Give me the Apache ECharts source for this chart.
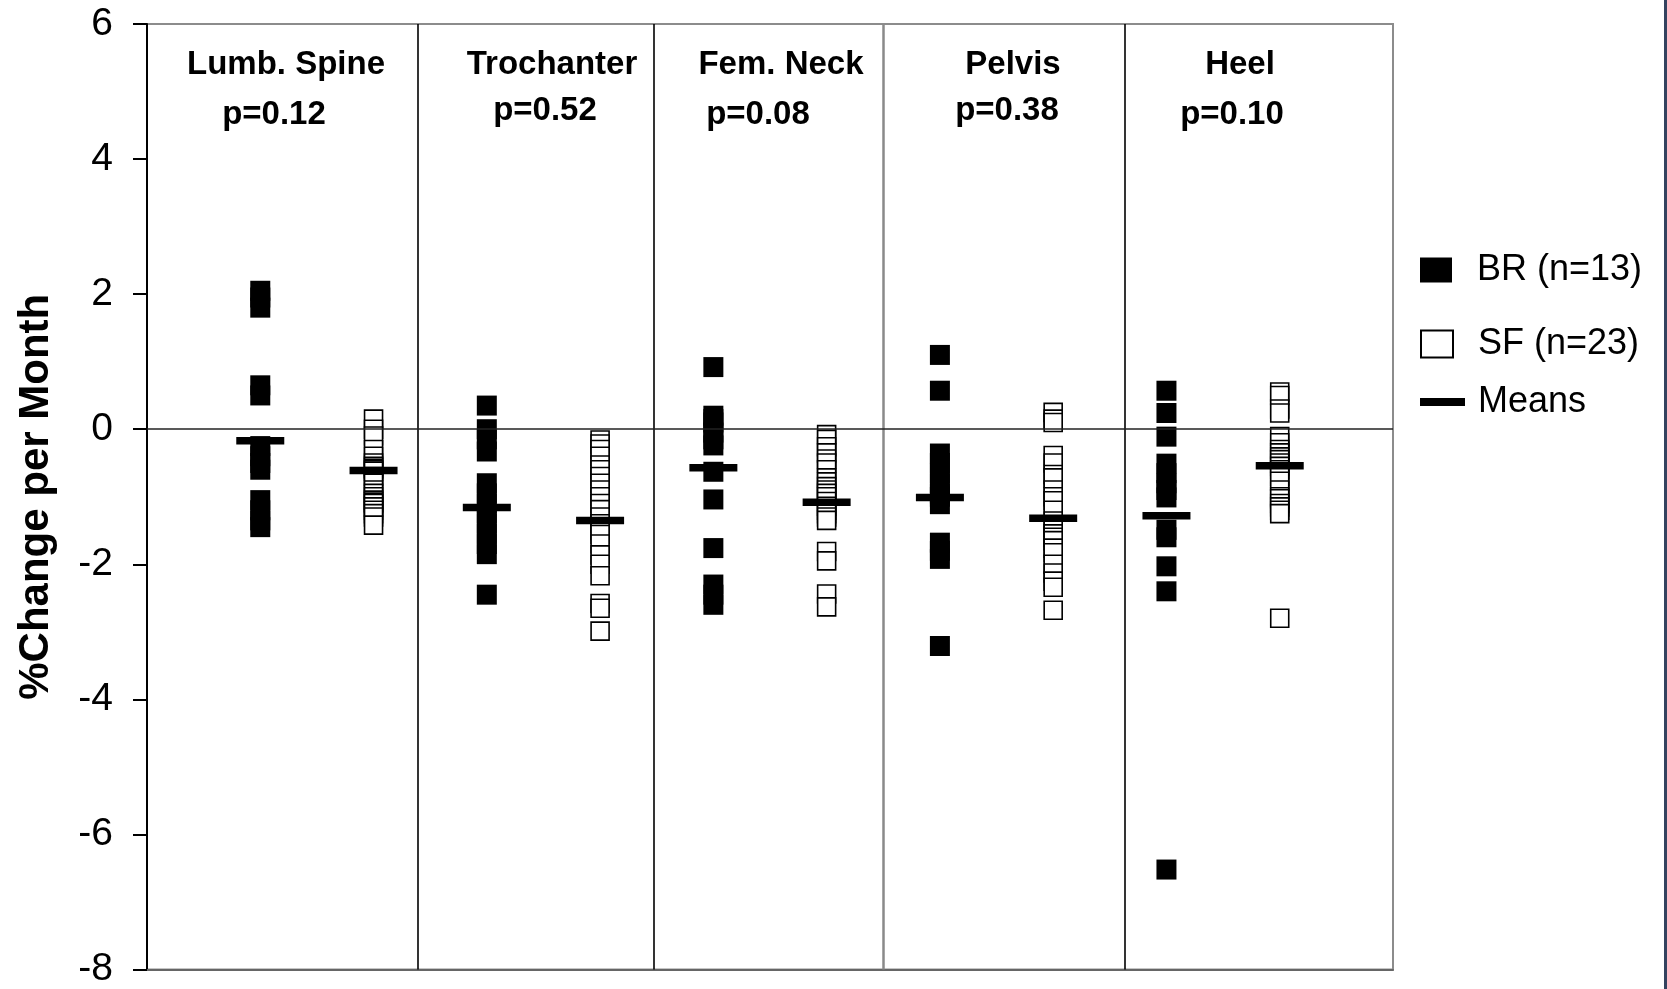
<!DOCTYPE html>
<html>
<head>
<meta charset="utf-8">
<script src="https://cdn.jsdelivr.net/npm/echarts@6/dist/echarts.min.js"></script>
<style>
html,body{margin:0;padding:0;background:#fff;}
#chart{width:1667px;height:989px;}
</style>
</head>
<body>
<div id="chart"></div>
<script>
// ---------- data ----------
const categories = ['Lumb. Spine', 'Trochanter', 'Fem. Neck', 'Pelvis', 'Heel'];
const pLabels = ['p=0.12', 'p=0.52', 'p=0.08', 'p=0.38', 'p=0.10'];
const yTickValues = [-8, -6, -4, -2, 0, 2, 4, 6];

const lumbBR = [2.05, 1.95, 1.8, 0.65, 0.5, -0.25, -0.4, -0.5, -0.6, -1.05, -1.2, -1.35, -1.45];
const trochBR = [0.35, 0.0, -0.15, -0.33, -0.8, -0.95, -1.1, -1.25, -1.4, -1.55, -1.7, -1.85, -2.45];
const femBR = [0.92, 0.2, 0.15, 0.1, -0.05, -0.15, -0.24, -0.63, -1.04, -1.76, -2.3, -2.45, -2.6];
const pelBR = [1.1, 0.57, -0.36, -0.5, -0.65, -0.8, -0.95, -1.0, -1.11, -1.68, -1.8, -1.92, -3.21];
const heelBR = [0.57, 0.24, -0.11, -0.51, -0.65, -0.8, -0.9, -1.01, -1.49, -1.6, -2.03, -2.4, -6.52];

const lumbSF = [0.15, 0.0, -0.1, -0.3, -0.4, -0.5, -0.55, -0.58, -0.6, -0.62, -0.7, -0.8, -0.9, -0.95, -1.0, -1.05, -1.08, -1.1, -1.15, -1.2, -1.25, -1.3, -1.42];
const trochSF = [-0.16, -0.22, -0.3, -0.4, -0.53, -0.6, -0.7, -0.8, -0.9, -1.0, -1.1, -1.19, -1.3, -1.4, -1.5, -1.56, -1.7, -1.86, -2.0, -2.17, -2.58, -2.65, -2.99];
const femSF = [-0.08, -0.15, -0.26, -0.35, -0.44, -0.5, -0.6, -0.72, -0.78, -0.85, -0.9, -0.95, -1.0, -1.07, -1.14, -1.2, -1.25, -1.3, -1.35, -1.81, -1.95, -2.44, -2.63];
const pelSF = [0.25, 0.15, 0.1, -0.39, -0.5, -0.67, -0.72, -0.9, -1.0, -1.06, -1.2, -1.36, -1.45, -1.55, -1.6, -1.65, -1.76, -1.83, -2.0, -2.13, -2.25, -2.34, -2.68];
const heelSF = [0.55, 0.5, 0.3, 0.24, -0.11, -0.2, -0.3, -0.35, -0.41, -0.45, -0.5, -0.55, -0.6, -0.7, -0.77, -0.9, -1.0, -1.03, -1.1, -1.15, -1.2, -1.25, -2.8];

const meansBR = [-0.17, -1.16, -0.57, -1.01, -1.28];
const meansSF = [-0.61, -1.35, -1.08, -1.32, -0.54];

const seriesNames = ['BR (n=13)', 'SF (n=23)', 'Means'];

// ---------- layout (not data) ----------
const brGroups = [lumbBR, trochBR, femBR, pelBR, heelBR];
const sfGroups = [lumbSF, trochSF, femSF, pelSF, heelSF];
const dividerX = [2.386, 4.475, 6.505, 8.635];
const catLabelPos = [[286, 65], [552, 65], [781, 65], [1013, 65], [1240, 65]];
const pLabelPos = [[274, 115], [545, 111], [758, 115], [1007, 111], [1232, 115]];

const brData = [], sfData = [], meanData = [];
brGroups.forEach((g, i) => g.forEach(v => brData.push([2 * i + 1, v])));
sfGroups.forEach((g, i) => g.forEach(v => sfData.push([2 * i + 2, v])));
categories.forEach((c, i) => {
  meanData.push([2 * i + 1, meansBR[i]]);
  meanData.push([2 * i + 2, meansSF[i]]);
});

const FONT = "Arial, 'Liberation Sans', sans-serif";

const graphics = [];
categories.forEach((c, i) => {
  graphics.push({type: 'text', z: 100, style: {text: c, x: catLabelPos[i][0], y: catLabelPos[i][1],
    fontFamily: FONT, fontWeight: 'bold', fontSize: 33, fill: '#000', align: 'center', verticalAlign: 'middle'}});
  graphics.push({type: 'text', z: 100, style: {text: pLabels[i], x: pLabelPos[i][0], y: pLabelPos[i][1],
    fontFamily: FONT, fontWeight: 'bold', fontSize: 33, fill: '#000', align: 'center', verticalAlign: 'middle'}});
});
graphics.push({type: 'rect', shape: {x: 1664, y: 0, width: 3, height: 989}, style: {fill: '#34425f'}});

const markLineData = dividerX.map((x, i) => ({
  xAxis: x,
  lineStyle: i === 2 ? {color: '#8a8a8a', width: 2.5, type: 'solid'} : {color: '#000', width: 1.6, type: 'solid'}
}));
markLineData.push({yAxis: 0, lineStyle: {color: '#222', width: 1.6, type: 'solid'}});

const option = {
  animation: false,
  backgroundColor: '#fff',
  textStyle: {fontFamily: FONT},
  grid: {left: 147, right: 274, top: 24, bottom: 19, show: true, borderColor: '#8c8c8c', borderWidth: 2, backgroundColor: 'transparent'},
  xAxis: {
    type: 'value', min: 0, max: 11,
    axisLine: {show: true, onZero: false, lineStyle: {color: '#666', width: 2}},
    axisTick: {show: false}, axisLabel: {show: false}, splitLine: {show: false}
  },
  yAxis: {
    type: 'value',
    min: yTickValues[0], max: yTickValues[yTickValues.length - 1], interval: yTickValues[1] - yTickValues[0],
    name: '%Change per Month', nameLocation: 'middle', nameGap: 90, nameRotate: 90,
    nameTextStyle: {fontFamily: FONT, fontWeight: 'bold', fontSize: 42, color: '#000'},
    axisLine: {show: true, onZero: false, lineStyle: {color: '#000', width: 2}},
    axisTick: {show: true, inside: false, length: 14, lineStyle: {color: '#000', width: 2}},
    axisLabel: {fontFamily: FONT, fontSize: 39, color: '#000', margin: 34},
    splitLine: {show: false}
  },
  legend: [
    {data: [seriesNames[0]], left: 1420, top: 252, padding: 0, itemWidth: 32, itemHeight: 25, icon: 'rect',
     textStyle: {fontFamily: FONT, fontSize: 36, color: '#000', padding: [0, 0, 0, 20]}},
    {data: [seriesNames[1]], left: 1420, top: 326, padding: 0, itemWidth: 32, itemHeight: 27, icon: 'rect',
     itemStyle: {color: '#fff', borderColor: '#000', borderWidth: 2},
     textStyle: {fontFamily: FONT, fontSize: 36, color: '#000', padding: [0, 0, 0, 20]}},
    {data: [seriesNames[2]], left: 1420, top: 384, padding: 0, itemWidth: 45, itemHeight: 8, icon: 'rect',
     textStyle: {fontFamily: FONT, fontSize: 36, color: '#000', padding: [0, 0, 0, 8]}}
  ],
  graphic: graphics,
  series: [
    {
      type: 'scatter', name: 'dividers', data: [], silent: true, z: 1,
      markLine: {silent: true, symbol: ['none', 'none'], label: {show: false}, animation: false, data: markLineData}
    },
    {
      type: 'scatter', name: seriesNames[0], data: brData, symbol: 'rect', symbolSize: 20, z: 3,
      itemStyle: {color: '#000', opacity: 1}
    },
    {
      type: 'scatter', name: seriesNames[1], data: sfData, symbol: 'rect', symbolSize: 18, z: 3,
      itemStyle: {color: '#fff', borderColor: '#000', borderWidth: 1.6, opacity: 1}
    },
    {
      type: 'scatter', name: seriesNames[2], data: meanData, symbol: 'rect', symbolSize: [48, 7.5], z: 5,
      itemStyle: {color: '#000', opacity: 1}
    }
  ]
};

const chart = echarts.init(document.getElementById('chart'), null, {renderer: 'canvas'});
chart.setOption(option);
</script>
</body>
</html>
